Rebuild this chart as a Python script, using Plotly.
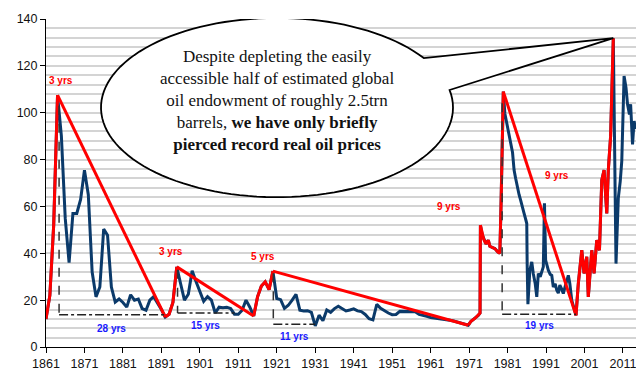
import numpy as np
import plotly.graph_objects as go

# Real oil price, annual observations 1861-1970
years_annual = list(range(1861, 1971))
price_annual = [
    12, 22, 52, 107.5, 90, 55, 36, 57, 57, 63,            # 1861-1870
    75.5, 65, 32, 21.4, 25.6, 50.3, 47.7, 25.6, 19.2, 20.5,  # 1871-1880
    19, 17, 22.3, 20, 20.5, 16.4, 15.7, 20, 21.5, 19,     # 1881-1890
    16, 12.8, 14, 19, 34.2, 27, 20, 22.5, 32.5, 28,       # 1891-1900
    23.5, 19.5, 21.5, 20, 14.5, 17, 16.8, 17, 16.4, 14,   # 1901-1910
    14, 15.7, 20, 17, 13.2, 21.4, 26, 27.8, 24.5, 32.4,   # 1911-1920
    20.7, 20.2, 16.5, 17.8, 20, 22.5, 15.7, 15.4, 15.5, 14.8,  # 1921-1930
    9, 13.6, 11.2, 15.8, 14.8, 16.4, 17.4, 16.4, 15.4, 15.8,   # 1931-1940
    16.3, 15.4, 15.1, 13.9, 12.1, 11.6, 18.2, 16.5, 15.4, 14.5,  # 1941-1950
    13.8, 13.9, 15.2, 15.2, 15.2, 15.2, 15, 13.9, 13.6, 13.1,  # 1951-1960
    12.6, 12.4, 12.3, 12, 11.9, 11.4, 11.1, 10.7, 10.3, 9.9,   # 1961-1970
]

# Higher-frequency observations from 1970 onwards
years_recent = [
    1970.8, 1971.5, 1972.5, 1973.4, 1973.85, 1973.95, 1974.4, 1974.8, 1975.4, 1976.0,
    1976.4, 1977.0, 1977.7, 1978.5, 1979.0, 1979.3, 1979.6, 1979.9, 1980.3, 1980.8,
    1981.2, 1981.7, 1982.3, 1982.7, 1983.1, 1983.5, 1984.0, 1984.4, 1984.9, 1985.3,
    1985.8, 1986.0, 1986.1, 1986.3, 1986.8, 1987.3, 1987.7, 1988.2, 1988.6, 1989.0,
    1989.5, 1989.9, 1990.3, 1990.6, 1990.9, 1991.6, 1992.1, 1992.5, 1992.9, 1993.4,
    1993.8, 1994.2, 1994.6, 1995.0, 1995.5, 1996.0, 1996.8, 1997.2, 1997.7, 1998.2,
    1998.8, 1999.4, 2000.3, 2000.9, 2001.6, 2002.0, 2002.9, 2003.5, 2004.2, 2004.9,
    2005.5, 2006.1, 2006.8, 2007.2, 2007.8, 2008.5, 2009.2, 2009.8, 2010.3, 2010.7,
    2010.9, 2011.3, 2011.8, 2012.2, 2012.7, 2013.0, 2013.5, 2013.9, 2014.3,
]
price_recent = [
    9.3, 11.0, 12.2, 13.5, 14.5, 52, 48, 46, 44, 45.6,
    43, 42.5, 42, 40.5, 40, 60, 95, 109, 99.7, 95,
    92.6, 88, 83, 75.5, 72, 68.4, 65, 62.7, 60, 57,
    54, 52.7, 35.5, 18.3, 32.8, 36.3, 31.3, 27, 21.4, 31.3,
    30, 32.8, 34.2, 61.3, 37.1, 32.8, 31, 30.6, 25.6, 27,
    24.2, 23, 26.4, 25, 22.8, 26, 30.6, 27, 19.9, 17,
    13.5, 27.1, 41.3, 31.4, 38.5, 21.4, 41.3, 31.4, 45.6, 41.3,
    71.2, 75.5, 57, 75.5, 90, 131.8, 35.6, 63.6, 70.7, 79.3,
    96.4, 115.7, 110.7, 103.6, 99.3, 103.6, 86.5, 96.4, 93,
]

# Rally periods (trough -> peak) with their durations
rally_start = [1861, 1892, 1915, 1970.8, 1998.8]
rally_end = [1864, 1895, 1920, 1979.9, 2008.5]
rally_labels = ["3 yrs", "3 yrs", "5 yrs", "9 yrs", "9 yrs"]
rally_label_x = [1865.0, 1893.6, 1917.5, 1965.8, 1993.8]
rally_label_y = [113.8, 40.6, 38.5, 59.8, 73.4]

# Slumps (peak -> next trough) and how long prices stayed below the level
slump_peak = [1864, 1895, 1920, 1979.9]
slump_trough = [1892, 1915, 1970.8, 1998.8]
below_from = [1864.4, 1895.2, 1920.1, 1979.6]
below_to = [1892, 1910, 1931, 1998.8]
below_top = [103, 33, 31.5, 104]
below_level = [13.8, 14.5, 9.7, 14.0]
below_labels = ["28 yrs", "15 yrs", "11 yrs", "19 yrs"]
below_label_x = [1878.0, 1902.5, 1925.5, 1989.2]
below_label_y = [8.1, 9.3, 4.3, 9.0]

x_ticks = list(range(1861, 2012, 10))

years = np.array(years_annual + years_recent, dtype=float)
prices = np.array(price_annual + price_recent, dtype=float)


def value_at(yr):
    return float(np.interp(yr, years, prices))


BLUE = "#0b3a6a"
RED = "#ff0000"

fig = go.Figure()

# full price history
fig.add_trace(go.Scatter(x=years, y=prices, mode="lines",
                         line=dict(color=BLUE, width=3), hoverinfo="skip"))

# rallies highlighted in red
for s, e in zip(rally_start, rally_end):
    m = (years >= s - 1e-9) & (years <= e + 1e-9)
    fig.add_trace(go.Scatter(x=years[m], y=prices[m], mode="lines",
                             line=dict(color=RED, width=3), hoverinfo="skip"))

# straight peak-to-trough lines
for p, t in zip(slump_peak, slump_trough):
    fig.add_trace(go.Scatter(x=[p, t], y=[value_at(p), value_at(t)], mode="lines",
                             line=dict(color=RED, width=3), hoverinfo="skip"))

# "years below" brackets
for x0, x1, top, lvl in zip(below_from, below_to, below_top, below_level):
    fig.add_trace(go.Scatter(x=[x0, x0], y=[top, lvl], mode="lines",
                             line=dict(color="#333333", width=1.5, dash="dash"),
                             hoverinfo="skip"))
    fig.add_trace(go.Scatter(x=[x0, x1], y=[lvl, lvl], mode="lines",
                             line=dict(color="#222222", width=1.5, dash="dashdot"),
                             hoverinfo="skip"))

for txt, x, y in zip(rally_labels, rally_label_x, rally_label_y):
    fig.add_annotation(x=x, y=y, text=f"<b>{txt}</b>", showarrow=False,
                       font=dict(family="Liberation Sans, Arial", size=10, color=RED))
for txt, x, y in zip(below_labels, below_label_x, below_label_y):
    fig.add_annotation(x=x, y=y, text=f"<b>{txt}</b>", showarrow=False,
                       font=dict(family="Liberation Sans, Arial", size=10, color="#1a1aff"))

# speech-bubble callout pointing at the 2008 peak
cx, cy, rx, ry = 1921.06, 102.2, 45.76, 38.25
a0, a1 = np.deg2rad(33.5), np.deg2rad(360 + 11.3)
ang = np.linspace(a0, a1, 120)
ex = cx + rx * np.cos(ang)
ey = cy + ry * np.sin(ang)
tip_x = rally_end[-1]
tip_y = value_at(tip_x)
path = "M " + " L ".join(f"{x:.3f},{y:.3f}" for x, y in zip(ex, ey))
path += f" L {tip_x:.3f},{tip_y:.3f} Z"
fig.add_shape(type="path", path=path, xref="x", yref="y",
              fillcolor="white", line=dict(color="black", width=1.8), layer="above")

fig.add_annotation(
    x=cx, y=105.4, xref="x", yref="y", showarrow=False,
    text=("Despite depleting the easily<br>accessible half of estimated global<br>"
          "oil endowment of roughly 2.5trn<br>barrels, <b>we have only briefly</b><br>"
          "<b>pierced record real oil prices</b>"),
    font=dict(family="Liberation Serif, Times New Roman", size=17, color="#111111"),
    align="center",
)

fig.update_layout(
    width=636, height=370,
    margin=dict(l=46, r=0, t=19, b=23),
    paper_bgcolor="white", plot_bgcolor="white",
    showlegend=False,
    font=dict(family="Liberation Sans, Arial", size=12.5, color="#111111"),
)
fig.update_xaxes(
    range=[1861, 2014.4], tickvals=x_ticks, ticks="outside", ticklen=5,
    tickcolor="black", showline=True, linecolor="black", linewidth=1,
    showgrid=False, zeroline=False, ticklabeloverflow="allow",
)
fig.update_yaxes(
    range=[0, 140], tick0=0, dtick=20, ticks="outside", ticklen=5,
    tickcolor="black", showline=True, linecolor="black", linewidth=1,
    showgrid=True, gridcolor="#d4d4d4", gridwidth=1.5, zeroline=False,
    minor=dict(dtick=4, showgrid=True, gridcolor="#d4d4d4", gridwidth=1.5),
)

fig.write_html("out.html")
